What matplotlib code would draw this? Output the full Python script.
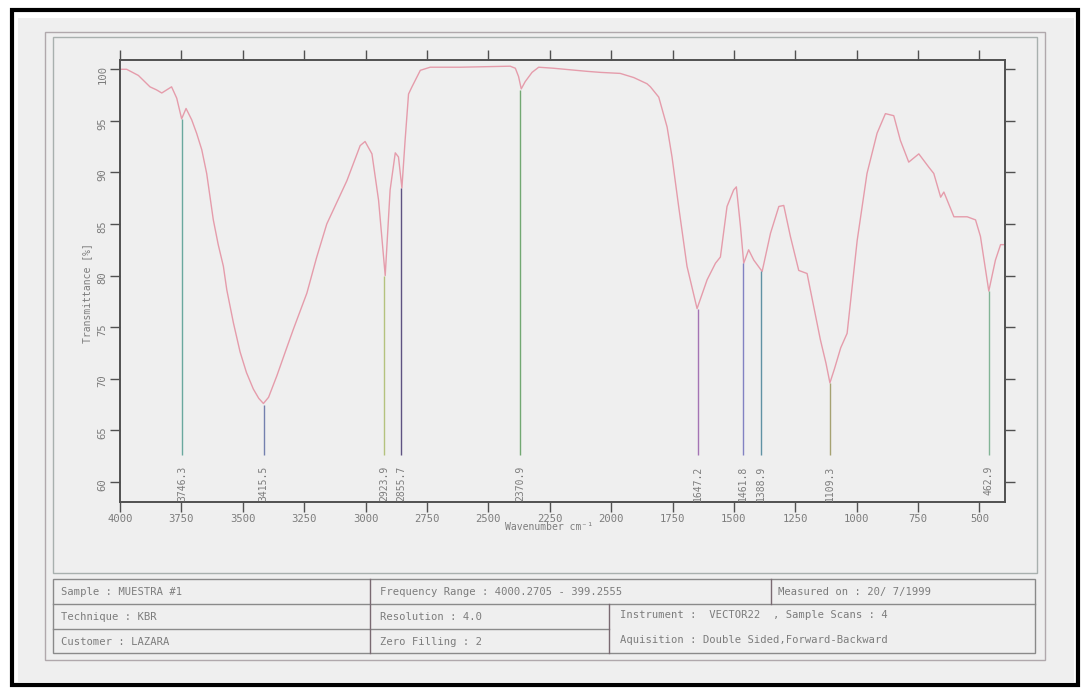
import matplotlib.pyplot as plt
from matplotlib.patches import Rectangle

# spectrum
wavenumber = [4000, 3973, 3925, 3878, 3851, 3830, 3810, 3790, 3769, 3749, 3731, 3708,
              3688, 3667, 3647, 3620, 3600, 3579, 3565, 3538, 3511, 3485, 3457, 3435,
              3416, 3395, 3361, 3321, 3294, 3239, 3200, 3158, 3076, 3022, 3002, 2974,
              2947, 2920, 2900, 2879, 2866, 2852, 2839, 2825, 2811, 2777, 2737, 2615,
              2411, 2390, 2377, 2366, 2350, 2322, 2295, 2234, 2098, 2044, 1963, 1908,
              1854, 1840, 1806, 1772, 1752, 1725, 1691, 1650, 1609, 1575, 1555, 1528,
              1501, 1490, 1473, 1460, 1440, 1419, 1385, 1351, 1317, 1297, 1270, 1236,
              1202, 1175, 1148, 1125, 1109, 1090, 1065, 1039, 998, 958, 917, 883, 849,
              822, 788, 747, 706, 686, 658, 645, 604, 550, 516, 496, 462, 435, 414, 399]
transmittance = [100.0, 100.0, 99.4, 98.3, 98.0, 97.7, 98.0, 98.3, 97.2, 95.2, 96.2, 95.1,
                 93.8, 92.2, 89.9, 85.4, 83.0, 80.9, 78.6, 75.4, 72.6, 70.6, 69.0, 68.1,
                 67.6, 68.2, 70.3, 73.0, 74.8, 78.3, 81.7, 85.0, 89.2, 92.6, 93.0, 91.8,
                 87.3, 80.0, 88.3, 91.9, 91.5, 88.5, 93.1, 97.6, 98.3, 99.9, 100.2, 100.2,
                 100.3, 100.1, 99.3, 98.1, 98.8, 99.7, 100.2, 100.1, 99.8, 99.7, 99.6, 99.2,
                 98.6, 98.3, 97.3, 94.4, 91.5, 86.7, 80.9, 76.8, 79.6, 81.2, 81.8, 86.7,
                 88.3, 88.6, 84.7, 81.2, 82.5, 81.5, 80.4, 84.1, 86.7, 86.8, 83.8, 80.5,
                 80.2, 77.0, 73.8, 71.5, 69.6, 71.0, 73.0, 74.4, 83.4, 89.9, 93.8, 95.7,
                 95.5, 93.1, 91.0, 91.8, 90.5, 89.9, 87.6, 88.1, 85.7, 85.7, 85.4, 83.8,
                 78.5, 81.5, 83.0, 83.0]

# picked peaks
peak_wn = [3746.3, 3415.5, 2923.9, 2855.7, 2370.9, 1647.2, 1461.8, 1388.9, 1109.3, 462.9]
peak_top = [95.2, 67.5, 80.0, 88.5, 98.0, 76.8, 81.2, 80.4, 69.6, 78.5]
peak_colors = ['#6aa89e', '#7480ae', '#b4c27e', '#5e5282', '#72a872',
               '#a474b4', '#8282c2', '#6092a4', '#a6a272', '#82b496']

xticks = [4000, 3750, 3500, 3250, 3000, 2750, 2500, 2250, 2000, 1750, 1500, 1250, 1000, 750, 500]
yticks = [60, 65, 70, 75, 80, 85, 90, 95, 100]

info_cells = [
    ("Sample : MUESTRA #1", 61, 592),
    ("Frequency Range : 4000.2705 - 399.2555", 380, 592),
    ("Measured on : 20/ 7/1999", 778, 592),
    ("Technique : KBR", 61, 617),
    ("Resolution : 4.0", 380, 617),
    ("Instrument :  VECTOR22  , Sample Scans : 4", 620, 615),
    ("Customer : LAZARA", 61, 642),
    ("Zero Filling : 2", 380, 642),
    ("Aquisition : Double Sided,Forward-Backward", 620, 640),
]

W, H = 1081, 688
txt = '#7c7c7c'
mono = 'DejaVu Sans Mono'

fig = plt.figure(figsize=(W / 100, H / 100), dpi=100, facecolor='white')

# page / frames drawn in pixel coordinates
bg = fig.add_axes([0, 0, 1, 1], zorder=0)
bg.set_xlim(0, W)
bg.set_ylim(H, 0)
bg.axis('off')
bg.add_patch(Rectangle((18, 18), 1056, 664, facecolor='#efefef', edgecolor='none'))
bg.add_patch(Rectangle((12, 10), 1066, 675, facecolor='none', edgecolor='black', lw=3))
bg.add_patch(Rectangle((45, 32), 1000, 628, facecolor='none', edgecolor='#b0a8ac', lw=1))
bg.add_patch(Rectangle((53, 37), 984, 536, facecolor='none', edgecolor='#a8b0ae', lw=1))
bg.add_patch(Rectangle((53, 579), 982, 74, facecolor='none', edgecolor='#8a8a8a', lw=1))
bg.plot([53, 1035], [604, 604], color='#8a8a8a', lw=1)
bg.plot([53, 609], [629, 629], color='#8a8a8a', lw=1)
bg.plot([370, 370], [579, 653], color='#7a6a72', lw=1)
bg.plot([771, 771], [579, 604], color='#7a6a72', lw=1)
bg.plot([609, 609], [604, 653], color='#7a6a72', lw=1)
for s, x, y in info_cells:
    bg.text(x, y, s, fontsize=7.6, family=mono, color=txt, va='center', ha='left')

# spectrum axes
ax = fig.add_axes([120 / W, 1 - 502 / H, 885 / W, 442 / H], zorder=1)
ax.set_facecolor('none')
ax.plot(wavenumber, transmittance, color='#e59cab', lw=1)
ax.vlines(peak_wn, 62.6, peak_top, colors=peak_colors, lw=1)
for w, c in zip(peak_wn, peak_colors):
    ax.text(w, 61.6, f'{w:.1f}', rotation=90, ha='center', va='top',
            fontsize=7, family=mono, color=txt)

ax.set_xlim(4000, 396)
ax.set_ylim(58.05, 100.9)
ax.set_xticks(xticks)
ax.set_yticks(yticks)
ax.tick_params(direction='out', length=7, width=1, color='#505050', labelcolor=txt,
               labelsize=7.6, top=True, right=True, pad=1.5)
ax.tick_params(axis='y', labelrotation=90, pad=2)
for lab in ax.get_xticklabels() + ax.get_yticklabels():
    lab.set_family(mono)
for sp in ax.spines.values():
    sp.set_color('#505050')
    sp.set_linewidth(1.4)

fig.text(87 / W, 1 - 293 / H, 'Transmittance [%]', rotation=90, ha='center', va='center',
         fontsize=7, family=mono, color=txt)
fig.text(549 / W, 1 - 527 / H, 'Wavenumber cm\u207b\u00b9', ha='center', va='center',
         fontsize=7, family=mono, color=txt)

fig.savefig('out.png', dpi=100, facecolor='white')
